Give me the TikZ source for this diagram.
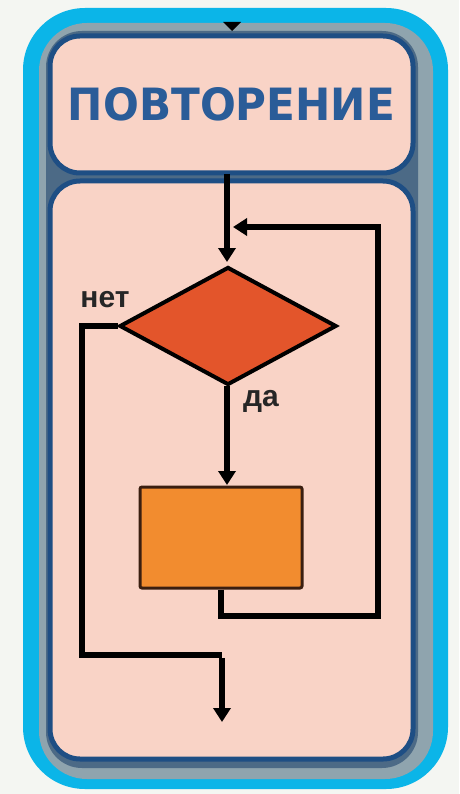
\documentclass[tikz,border=0pt]{standalone}
\usepackage{fontspec}
\usepackage{graphicx}
\setmainfont{Liberation Sans}
\newfontfamily\titlefont{DejaVu Sans}
\usetikzlibrary{arrows.meta,shapes.geometric}
\definecolor{bgc}{HTML}{F4F6F2}
\definecolor{cyanc}{HTML}{0BB5E8}
\definecolor{shadc}{HTML}{8FA4AE}
\definecolor{shaddark}{HTML}{4C6A86}
\definecolor{peach}{HTML}{F9D3C6}
\definecolor{panelborder}{HTML}{1E4E84}
\definecolor{titlec}{HTML}{2A5C98}
\definecolor{diac}{HTML}{E3552B}
\definecolor{boxc}{HTML}{F28C2F}
\definecolor{boxborder}{HTML}{3A1E10}
\tikzset{
  panel/.style={draw=panelborder, line width=5pt, fill=peach, rounded corners=30pt, inner sep=0pt},
  flow/.style={line width=5.5pt, black},
  tip/.style={-{Triangle[width=17pt,length=14pt]}},
  lbl/.style={font=\bfseries\fontsize{30}{30}\selectfont, text=black!85, inner sep=0pt},
}
\begin{document}
\begin{tikzpicture}[x=1pt,y=-1pt]
\useasboundingbox (0,0) rectangle (459,794);
\fill[bgc] (0,0) rectangle (459,794);
% outer frame
\fill[cyanc, rounded corners=62pt] (23,8) rectangle (448,789);
\fill[shadc, rounded corners=48pt] (39,23) rectangle (433,779);
\fill[shaddark, rounded corners=36pt] (46,31) rectangle (418,768);
% incoming arrow tip at the very top
\coordinate (topin) at (232,31);
\fill[black] (223,22) -- (241,22) -- (topin) -- cycle;
% panels
\node[panel, minimum width=363pt, minimum height=137pt] (title) at (231.5,104.5) {};
\node[text=titlec, inner sep=0pt] (titletext) at (title.center) {\resizebox{327pt}{33pt}{\titlefont\bfseries ПОВТОРЕНИЕ}};
\node[panel, minimum width=363pt, minimum height=578pt] (body) at (231.5,470) {};
% shapes
\node[diamond, draw=black, line width=4pt, fill=diac, minimum width=217pt, minimum height=118pt, inner sep=0pt] (cond) at (228,326) {};
\node[rectangle, draw=boxborder, line width=3pt, fill=boxc, minimum width=162pt, minimum height=101pt, inner sep=0pt, rounded corners=2pt] (act) at (221,537.5) {};
% coordinates
\coordinate (entry) at (227,174);
\coordinate (join) at (233,227);
\coordinate (loopTR) at (378,227);
\coordinate (loopBR) at (378,616);
\coordinate (loopBL) at (221,616);
\coordinate (noX) at (82,0);
\coordinate (noBL) at (82,655);
\coordinate (noBR) at (222,655);
\coordinate (exit) at (222,722);
% connectors
\draw[flow, tip] (entry) -- (227,262);
\draw[flow, tip] (227,386) -- (227,485);
\draw[flow] (act.south -| loopBL) -- (loopBL) -- (loopBR) -- (loopTR) -- ([xshift=14pt]join);
\draw[flow, tip] ([xshift=16pt]join) -- (join);
\draw[flow] (cond.west) -- (cond.west -| noX) -- (noBL) -- (noBR);
\draw[flow, tip] ([yshift=-2.75pt]noBR) -- (exit);
% labels
\node[lbl] (no) at (105,300) {нет};
\node[lbl] (yes) at (261,401) {да};
\end{tikzpicture}
\end{document}
